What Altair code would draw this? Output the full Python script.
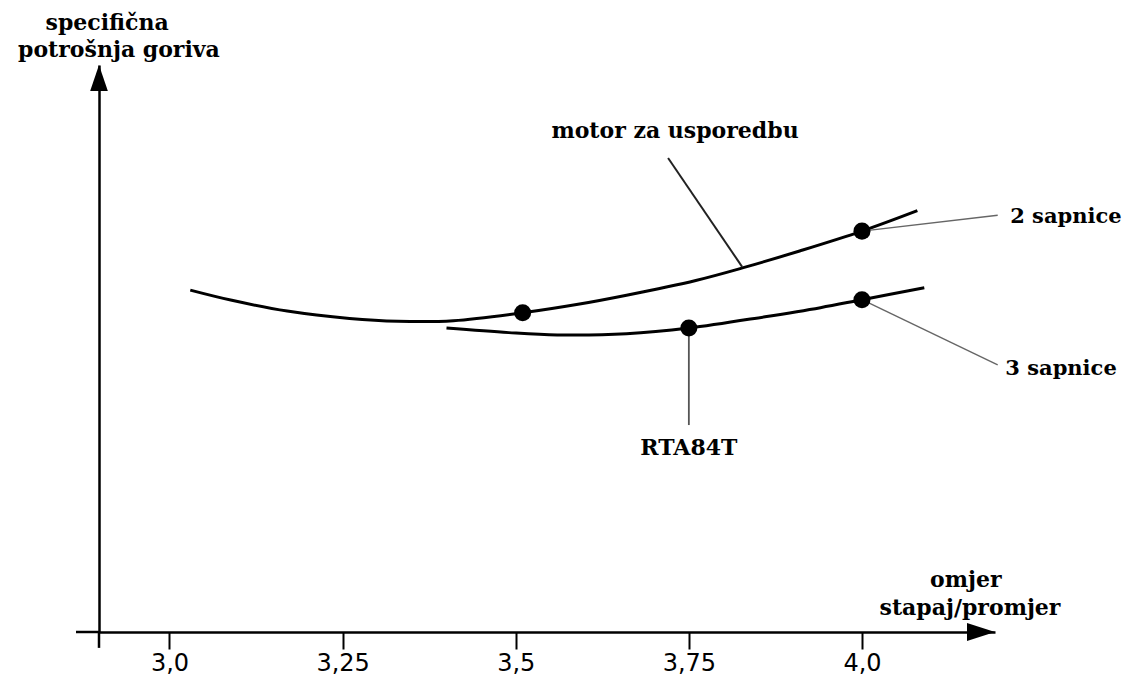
import json
import altair as alt
import pandas as pd

# ---------------- data ----------------
# curve "2 sapnice" / motor za usporedbu
C2_X = [3.03, 3.09, 3.17, 3.26, 3.33, 3.41, 3.51, 3.59, 3.66, 3.76, 3.83, 3.91, 4.00, 4.08]
C2_Y = [60.3, 58.5, 56.6, 55.3, 54.8, 54.9, 56.3, 57.8, 59.4, 62.0, 64.3, 67.2, 70.7, 74.3]
# curve "3 sapnice" (RTA84T)
C3_X = [3.40, 3.49, 3.56, 3.66, 3.75, 3.86, 3.94, 4.00, 4.09]
C3_Y = [53.6, 52.8, 52.4, 52.6, 53.6, 55.6, 57.2, 58.6, 60.7]
# highlighted points
DOT_X = [3.51, 4.00, 3.75, 4.00]
DOT_Y = [56.3, 70.7, 53.6, 58.6]
# leader lines
LEAD_X1 = [3.72, 4.00, 4.00, 3.75]
LEAD_Y1 = [83.6, 70.7, 58.6, 53.6]
LEAD_X2 = [3.827, 4.196, 4.196, 3.75]
LEAD_Y2 = [64.4, 73.5, 47.1, 36.5]
LEAD_W = [2.0, 1.4, 1.4, 1.8]
LEAD_C = ["#222222", "#666666", "#666666", "#555555"]
# annotation texts
LABELS_C = ["motor za usporedbu", "RTA84T", "omjer", "stapaj/promjer", "specifična", "potrošnja goriva"]
LABELS_C_X = [3.73, 3.75, 4.150, 4.156, 2.910, 2.927]
LABELS_C_Y = [87.1, 31.2, 7.9, 3.0, 106.2, 101.4]
LABELS_L = ["2 sapnice", "3 sapnice"]
LABELS_L_X = [4.214, 4.207]
LABELS_L_Y = [72.1, 45.3]
# axis
TICK_VALUES = [3.0, 3.25, 3.5, 3.75, 4.0]
TICK_LABELS = ["3,0", "3,25", "3,5", "3,75", "4,0"]
X_DOMAIN = [2.8982, 4.1921]
Y_DOMAIN = [0, 100]
X_EXT = [2.865, 2.8982]   # x-axis line continues left of the y-axis
Y_EXT = [-2.8, 0]         # y-axis line continues below the x-axis

# ---------------- frames ----------------
curves = pd.DataFrame({
    "x": C2_X + C3_X,
    "y": C2_Y + C3_Y,
    "s": ["2"] * len(C2_X) + ["3"] * len(C3_X),
})
dots = pd.DataFrame({"x": DOT_X, "y": DOT_Y})
leads = pd.DataFrame({"x": LEAD_X1, "y": LEAD_Y1, "x2": LEAD_X2, "y2": LEAD_Y2,
                      "w": LEAD_W, "c": LEAD_C, "i": list(range(len(LEAD_X1)))})
txt_c = pd.DataFrame({"t": LABELS_C, "x": LABELS_C_X, "y": LABELS_C_Y})
txt_l = pd.DataFrame({"t": LABELS_L, "x": LABELS_L_X, "y": LABELS_L_Y})
ext = pd.DataFrame({"x": [X_EXT[0], X_DOMAIN[0]], "x2": [X_EXT[1], X_DOMAIN[0]],
                    "y": [0, Y_EXT[0]], "y2": [0, Y_EXT[1]]})
arrows = pd.DataFrame({"x": [X_DOMAIN[0], X_DOMAIN[1]], "y": [Y_DOMAIN[1], Y_DOMAIN[0]],
                       "k": ["up", "right"]})

xs = alt.Scale(domain=X_DOMAIN, nice=False, zero=False)
ys = alt.Scale(domain=Y_DOMAIN, nice=False, zero=False)

label_expr = f"{json.dumps(TICK_LABELS)}[indexof({json.dumps(TICK_VALUES)}, datum.value)]"

x_axis = alt.Axis(values=TICK_VALUES, labelExpr=label_expr, grid=False,
                  domainColor="black", domainWidth=2.5, tickColor="black",
                  tickWidth=2, tickSize=17, labelFont="DejaVu Sans",
                  labelFontSize=24, labelColor="black", labelPadding=2,
                  labelFlush=False, labelOverlap=False)
y_axis = alt.Axis(grid=False, ticks=False, labels=False, domainColor="black",
                  domainWidth=2.5)

base_x = alt.X("x:Q", scale=xs, axis=x_axis, title=None)
base_y = alt.Y("y:Q", scale=ys, axis=y_axis, title=None)

ext_layer = alt.Chart(ext).mark_rule(color="black", strokeWidth=2.5).encode(
    x=alt.X("x:Q", scale=xs), x2="x2:Q", y=alt.Y("y:Q", scale=ys), y2="y2:Q")

lead_layer = alt.Chart(leads).mark_rule().encode(
    x=alt.X("x:Q", scale=xs), x2="x2:Q", y=alt.Y("y:Q", scale=ys), y2="y2:Q",
    strokeWidth=alt.StrokeWidth("w:Q", scale=None, legend=None),
    color=alt.Color("c:N", scale=None, legend=None))

curve_layer = alt.Chart(curves).mark_line(
    color="black", strokeWidth=3, interpolate="catmull-rom").encode(
    x=base_x, y=base_y, detail="s:N")

dot_layer = alt.Chart(dots).mark_circle(color="black", size=290, opacity=1).encode(
    x=alt.X("x:Q", scale=xs), y=alt.Y("y:Q", scale=ys))

arrow_up = alt.Chart(arrows[arrows.k == "up"]).mark_point(
    shape="M0,0L0.34,1L-0.34,1Z", size=2704, filled=True, color="black",
    opacity=1, strokeWidth=0).encode(x=alt.X("x:Q", scale=xs), y=alt.Y("y:Q", scale=ys))
arrow_right = alt.Chart(arrows[arrows.k == "right"]).mark_point(
    shape="M0,0L-1,-0.32L-1,0.32Z", size=3136, filled=True, color="black",
    opacity=1, strokeWidth=0).encode(x=alt.X("x:Q", scale=xs), y=alt.Y("y:Q", scale=ys))

text_c = alt.Chart(txt_c).mark_text(
    font="DejaVu Serif", fontWeight="bold", fontSize=22, color="black",
    align="center", baseline="alphabetic").encode(
    x=alt.X("x:Q", scale=xs), y=alt.Y("y:Q", scale=ys), text="t:N")
text_l = alt.Chart(txt_l).mark_text(
    font="DejaVu Serif", fontWeight="bold", fontSize=21, color="black",
    align="left", baseline="alphabetic").encode(
    x=alt.X("x:Q", scale=xs), y=alt.Y("y:Q", scale=ys), text="t:N")

chart = alt.layer(
    curve_layer, ext_layer, lead_layer, dot_layer, arrow_up, arrow_right, text_c, text_l
).properties(
    width=896, height=567,
    padding={"left": 91, "top": 57, "right": 130, "bottom": 46},
    autosize=alt.AutoSizeParams(type="none"),
    background="white",
).configure_view(stroke=None)

chart.save("out.html", embed_options={"renderer": "svg", "actions": False})
